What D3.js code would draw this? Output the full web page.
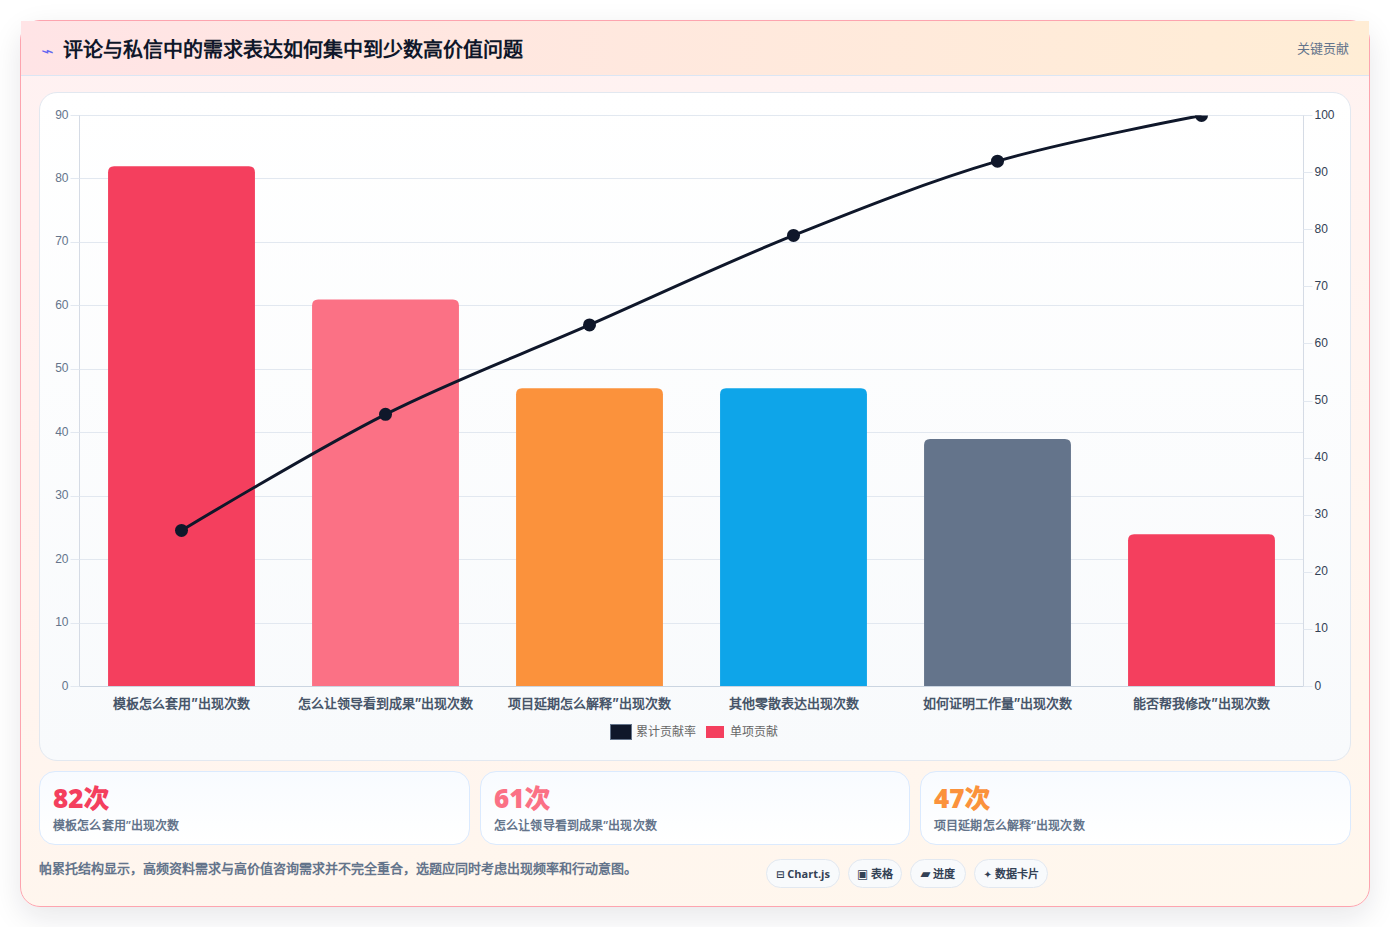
<!DOCTYPE html>
<html lang="zh-CN"><head><meta charset="utf-8">
<script src="https://cdnjs.cloudflare.com/ajax/libs/d3/7.8.5/d3.min.js"></script>
<style>
*{box-sizing:border-box}
html,body{margin:0;padding:0;width:1390px;height:927px;overflow:hidden;background:#fff;font-family:"Open Sans",sans-serif}
#card{position:absolute;left:20px;top:20px;width:1350px;height:887px;border:1px solid #fda4af;border-radius:20px;background:linear-gradient(170deg,#fff1f2 0%,#fff7ed 100%);box-shadow:0 10px 30px rgba(15,23,42,.1)}
#head{position:absolute;left:0;top:0;width:1348px;height:55px;background:linear-gradient(90deg,#ffe4e6,#ffedd5);border-bottom:1px solid #dbe6f4}
#icon{position:absolute;left:20px;top:17px;font-size:22px;line-height:24px;color:#6366f1;transform:scaleY(.65)}
#title{position:absolute;left:41.5px;top:14px;font-size:20px;font-weight:800;line-height:29px;color:#0f172a;white-space:nowrap}
#tag{position:absolute;right:20px;top:18px;font-size:13px;font-weight:500;line-height:19px;color:#64748b}
#panel{position:absolute;left:39px;top:92px;width:1312px;height:669px;border:1px solid #e2e8f0;border-radius:18px;background:linear-gradient(180deg,#fff,#f8fafc)}
svg{position:absolute;left:0;top:0}
.stat{position:absolute;top:771px;height:74px;border:1px solid #dbeafe;border-radius:16px;background:linear-gradient(180deg,#f8fbff,#fff)}
.stat b{position:absolute;left:13px;top:8px;font-family:"Open Sans","Noto Sans CJK SC";font-size:26px;line-height:36px;font-weight:800}
.stat span{position:absolute;left:13px;top:45px;font-size:12px;line-height:18px;font-weight:600;letter-spacing:.15px;color:#64748b;white-space:nowrap}
#note{position:absolute;left:39px;top:859px;font-size:13px;font-weight:600;line-height:19px;color:#64748b;white-space:nowrap}
.pill{position:absolute;top:859px;height:29px;border:1px solid #e2e8f0;border-radius:15px;background:#f8fafc;font-size:11px;font-weight:700;line-height:27px;color:#334155;text-align:center;white-space:nowrap}
.pill i{font:normal bold 10px "DejaVu Sans"}
</style></head><body>
<div id="card"><div id="head"><div id="icon">⌁</div><div id="title"></div><div id="tag"></div></div></div>
<div id="panel"></div>
<svg id="chart" width="1390" height="927"></svg>
<div id="note"></div>
<script>
const titleText="评论与私信中的需求表达如何集中到少数高价值问题";
const tagText="关键贡献";
const categories=["模板怎么套用”出现次数","怎么让领导看到成果”出现次数","项目延期怎么解释”出现次数","其他零散表达出现次数","如何证明工作量”出现次数","能否帮我修改”出现次数"];
const barValues=[82,61,47,47,39,24];
const cumulative=[27.33,47.67,63.33,79,92,100];
const barColors=["#f43f5e","#fb7185","#fb923c","#0ea5e9","#64748b","#f43f5e"];
const leftTicks=[0,10,20,30,40,50,60,70,80,90];
const rightTicks=[0,10,20,30,40,50,60,70,80,90,100];
const legendNames=["累计贡献率","单项贡献"];
const statValues=["82次","61次","47次"];
const statLabels=["模板怎么套用”出现次数","怎么让领导看到成果”出现次数","项目延期怎么解释”出现次数"];
const statColors=["#f43f5e","#fb7185","#fb923c"];
const noteText="帕累托结构显示\uFF0C高频资料需求与高价值咨询需求并不完全重合\uFF0C选题应同时考虑出现频率和行动意图。";
const pillIcons=["⊟","▣","▰","✦"];
const pillNames=["Chart.js","表格","进度","数据卡片"];

d3.select("#title").text(titleText);
d3.select("#tag").text(tagText);
d3.select("#note").text(noteText);

const L=79.5,R=1303.5,T=115,B=686;
const svg=d3.select("#chart");
const x=d3.scaleBand().domain(categories).range([L,R]).paddingInner(.28).paddingOuter(.14);
const y=d3.scaleLinear().domain([0,90]).range([B,T]);
const y2=d3.scaleLinear().domain([0,100]).range([B,T]);
const snap=v=>Math.round(v)+.5;
const markShift=.5;

svg.append("g").selectAll("line").data(leftTicks.slice(1)).join("line")
 .attr("x1",L).attr("x2",R).attr("y1",d=>snap(y(d))).attr("y2",d=>snap(y(d))).attr("stroke","#e2e8f0");

const r=6;
svg.append("g").attr("transform",`translate(0,${markShift})`).selectAll("path").data(barValues).join("path")
 .attr("fill",(d,i)=>barColors[i])
 .attr("d",(d,i)=>{const a=x(categories[i]),w=x.bandwidth(),t=y(d);
   return `M${a},${B}V${t+r}Q${a},${t} ${a+r},${t}H${a+w-r}Q${a+w},${t} ${a+w},${t+r}V${B}Z`;});

const styleAxis=(g,color,sc)=>{g.select(".domain").attr("stroke","#d5dbe5");
  g.selectAll(".tick").attr("transform",d=>`translate(0,${snap(sc(d))})`);
  g.selectAll(".tick line").attr("stroke","#e2e8f0");
  g.selectAll(".tick text").attr("fill",color).attr("dy",0).attr("y",d=>Math.floor(sc(d))+4-snap(sc(d)))
    .style("font","12px 'Liberation Sans'");};
svg.append("g").attr("transform",`translate(${L},0)`)
 .call(d3.axisLeft(y).tickValues(leftTicks).tickSize(9).tickPadding(2).tickSizeOuter(0).offset(0)).call(g=>styleAxis(g,"#64748b",y));
svg.append("g").attr("transform",`translate(${R},0)`)
 .call(d3.axisRight(y2).tickValues(rightTicks).tickSize(9).tickPadding(2).tickSizeOuter(0).offset(0)).call(g=>styleAxis(g,"#334155",y2));
const gx=svg.append("g").attr("transform",`translate(0,${B+.5})`)
 .call(d3.axisBottom(x).tickSize(0).tickPadding(12).offset(0));
gx.select(".domain").attr("stroke","#cbd5e1");
gx.selectAll("text").attr("fill","#475569").style("font","700 13px Inter,sans-serif");

svg.append("defs").append("clipPath").attr("id","plot").append("rect")
 .attr("x",L).attr("y",T+markShift).attr("width",R-L).attr("height",B-T);
const gl=svg.append("g").attr("clip-path","url(#plot)");
const cx=(d,i)=>x(categories[i])+x.bandwidth()/2;
gl.append("path").datum(cumulative).attr("fill","none").attr("stroke","#0f172a").attr("stroke-width",3)
 .attr("d",d3.line().x(cx).y(d=>y2(d)+markShift).curve(d3.curveCardinal.tension(0)));
gl.selectAll("circle").data(cumulative).join("circle").attr("cx",cx).attr("cy",d=>y2(d)+markShift).attr("r",6.5).attr("fill","#0f172a");

const lg=svg.append("g");
lg.append("rect").attr("x",610.5).attr("y",724.5).attr("width",21).attr("height",15).attr("fill","#0f172a").attr("stroke","#64748b").attr("stroke-width",1);
lg.append("rect").attr("x",706).attr("y",726).attr("width",18).attr("height",12).attr("fill","#f43f5e");
lg.selectAll("text").data(legendNames).join("text").attr("x",(d,i)=>[636,730][i]).attr("y",736)
 .attr("fill","#666").style("font","500 12px Inter,sans-serif").text(d=>d);

const statL=[39,480,920],statW=[431,430,431];
d3.select("body").selectAll(".stat").data(statValues).join("div").attr("class","stat")
 .style("left",(d,i)=>statL[i]+"px").style("width",(d,i)=>statW[i]+"px")
 .html((d,i)=>`<b style="color:${statColors[i]}">${d}</b><span>${statLabels[i]}</span>`);

const pillL=[766,848,910,974],pillW=[74,54,56,74],pillIconPx=[10,12,13,10];
d3.select("body").selectAll(".pill").data(pillNames).join("div").attr("class","pill")
 .style("left",(d,i)=>pillL[i]+"px").style("width",(d,i)=>pillW[i]+"px")
 .html((d,i)=>`<i style="font-size:${pillIconPx[i]}px">${pillIcons[i]}</i> ${d}`);
</script></body></html>
